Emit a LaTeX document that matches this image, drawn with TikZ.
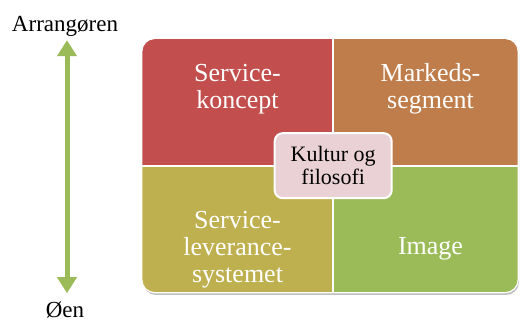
\documentclass[tikz,border=0pt]{standalone}
\usepackage{fontspec}
\setmainfont{Liberation Serif}
\usetikzlibrary{positioning, arrows.meta}

\definecolor{konseptred}{HTML}{C24F4D}
\definecolor{segmentorange}{HTML}{BF7D4B}
\definecolor{leveranseolive}{HTML}{BFB04F}
\definecolor{imagegreen}{HTML}{9BBB59}
\definecolor{kulturpink}{HTML}{E9D1D5}

\begin{document}
\begin{tikzpicture}[x=1pt, y=1pt,
		cell/.style={rectangle, inner sep=0pt, minimum width=#1, minimum height=127pt},
		celltext/.style={text=white, align=center, font=\fontsize{26}{27}\selectfont},
		kjerne/.style={rectangle, rounded corners=8pt, fill=kulturpink, draw=white, line width=2pt,
			minimum width=117pt, minimum height=65pt, align=center, font=\fontsize{22}{23}\selectfont}]
			\useasboundingbox (0, 0) rectangle (520, 323);

			% shadow under the matrix
			\fill[black!25, rounded corners=13pt] (143, 28) rectangle (519, 282);

			\begin{scope}
				\clip[rounded corners=13pt] (142, 30) rectangle (518, 284);
				\node[cell=191pt, fill=konseptred] (koncept) at (237.5, 221) {};
				\node[cell=185pt, fill=segmentorange] (segment) at (425.5, 221) {};
				\node[cell=191pt, fill=leveranseolive] (leveranse) at (237.5, 94) {};
				\node[cell=185pt, fill=imagegreen] (image) at (425.5, 94) {};
			\end{scope}

			\draw[white, line width=2pt] (koncept.north east) -- (leveranse.south east);
			\draw[white, line width=2pt] (koncept.south west) -- (segment.south east);
			\draw[white, line width=1.2pt, rounded corners=13pt] (koncept.north west) rectangle (image.south east);

			\node[celltext] (koncepttext) at ([yshift=13pt]koncept.center) {Service-\\koncept};
			\node[celltext] (segmenttext) at ([xshift=5pt, yshift=13pt]segment.center) {Markeds-\\segment};
			\node[celltext] (leveransetext) at ([yshift=-21pt]leveranse.center) {Service-\\leverance-\\systemet};
			\node[celltext] (imagetext) at ([xshift=5pt, yshift=-20pt]image.center) {Image};

			\node[kjerne] (kultur) at (koncept.south east) {Kultur og\\filosofi};

			% axis from the organiser down to the island
			\node[anchor=base, inner sep=0pt, font=\fontsize{23}{24}\selectfont] (arrangoren) at (65, 291) {Arrangøren};
			\node[anchor=base, inner sep=0pt, font=\fontsize{23}{24}\selectfont] (oen) at (65, 5) {Øen};
			\draw[imagegreen, line width=5pt, {Triangle[width=19pt, length=16pt]}-{Triangle[width=19pt, length=16pt]},
				shorten <=3pt, shorten >=9pt] ([xshift=2pt]arrangoren.south) -- ([xshift=2pt]oen.north);

		\end{tikzpicture}
\end{document}
